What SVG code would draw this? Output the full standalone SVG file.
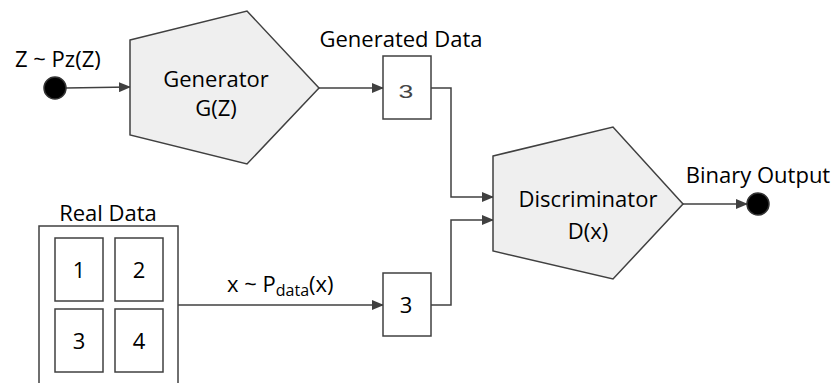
<svg xmlns="http://www.w3.org/2000/svg" width="840" height="383" viewBox="0 0 840 383">
<style>
text{font-family:"Open Sans","Liberation Sans",Arial,sans-serif;font-size:22px;fill:#000}
.shape{fill:#efefef;stroke:#404040;stroke-width:1.5}
.box{fill:#fff;stroke:#404040;stroke-width:1.5}
.conn{fill:none;stroke:#404040;stroke-width:1.5}
.dot{fill:#000;stroke:#333;stroke-width:1.5}
</style>
<defs>
<marker id="arr" markerUnits="userSpaceOnUse" markerWidth="12" markerHeight="10" refX="11" refY="5" orient="auto">
<path d="M0,0 L12,5 L0,10 Z" fill="#404040"/>
</marker>
</defs>
<g id="connectors">
<line class="conn" x1="66" y1="88" x2="130" y2="87" marker-end="url(#arr)"/>
<line class="conn" x1="319" y1="88" x2="383" y2="88" marker-end="url(#arr)"/>
<polyline class="conn" points="431,88 451,88 451,197 493,197" marker-end="url(#arr)"/>
<line class="conn" x1="178" y1="305" x2="383" y2="305" marker-end="url(#arr)"/>
<polyline class="conn" points="431,305 451,305 451,220 493,220" marker-end="url(#arr)"/>
<line class="conn" x1="683" y1="204" x2="747" y2="204" marker-end="url(#arr)"/>
<text x="227" y="292">x ~ P<tspan font-size="16" dy="4">data</tspan><tspan dy="-4">(x)</tspan></text>
</g>
<g id="input">
<circle class="dot" cx="55" cy="88" r="11"/>
<text x="15" y="67">Z ~ Pz(Z)</text>
</g>
<g id="generator">
<polygon class="shape" points="130,40 247,11 319,88 247,164 130,135"/>
<text x="216" y="87" text-anchor="middle">Generator</text>
<text x="216" y="116" text-anchor="middle">G(Z)</text>
</g>
<g id="generated-data">
<text x="401" y="47" text-anchor="middle">Generated Data</text>
<rect class="box" x="383" y="56" width="48" height="63"/>
<text x="406" y="98" text-anchor="middle" transform="translate(406 91) scale(1.4 1) translate(-406 -91)" style="font-family:'Liberation Sans',sans-serif;font-size:19px;fill:#444">3</text>
</g>
<g id="real-data">
<text x="108" y="221" text-anchor="middle">Real Data</text>
<rect class="box" x="39" y="226" width="139" height="200"/>
<rect class="box" x="55" y="238" width="48" height="63"/>
<rect class="box" x="115" y="238" width="48" height="63"/>
<rect class="box" x="55" y="309" width="48" height="63"/>
<rect class="box" x="115" y="309" width="48" height="63"/>
<text x="79" y="278" text-anchor="middle">1</text>
<text x="139" y="278" text-anchor="middle">2</text>
<text x="79" y="349" text-anchor="middle">3</text>
<text x="139" y="349" text-anchor="middle">4</text>
</g>
<g id="sample">
<rect class="box" x="383" y="273" width="48" height="63"/>
<text x="406" y="313" text-anchor="middle">3</text>
</g>
<g id="discriminator">
<polygon class="shape" points="493,156 613,127 683,204 613,279 493,251"/>
<text x="588" y="207" text-anchor="middle">Discriminator</text>
<text x="588" y="239" text-anchor="middle">D(x)</text>
</g>
<g id="output">
<circle class="dot" cx="758" cy="204" r="11"/>
<text x="758" y="183" text-anchor="middle">Binary Output</text>
</g>
</svg>
